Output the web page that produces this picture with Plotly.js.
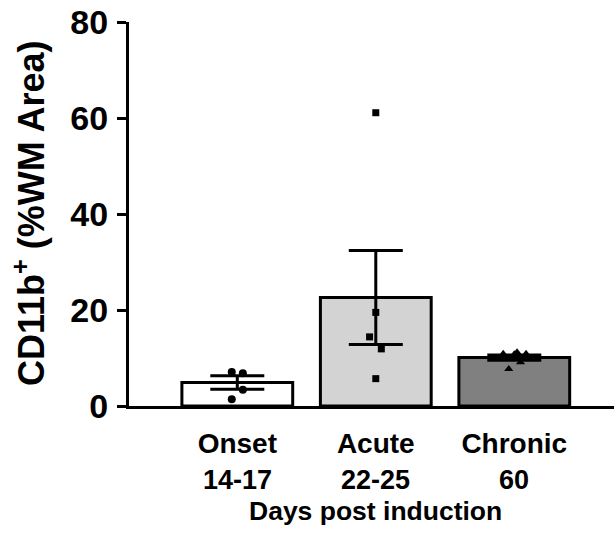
<!DOCTYPE html>
<html>
<head>
<meta charset="utf-8">
<script src="https://cdn.plot.ly/plotly-3.0.1.min.js"></script>
<style>html,body{margin:0;padding:0;background:#fff;}#chart{width:616px;height:540px;}</style>
</head>
<body>
<div id="chart"></div>
<script>
const categories = ['Onset', 'Acute', 'Chronic'];
const dayRanges = ['14-17', '22-25', '60'];
const means = [4.9, 22.6, 10.1];
const sems = [1.4, 9.8, 0.55];
const onsetPoints = [7.1, 6.8, 3.4, 1.4];
const acutePoints = [61.1, 19.5, 14.4, 11.9, 5.7];
const chronicPoints = [10.9, 10.9, 9.1, 7.7, 10.8, 11.2];
const yTicks = [0, 20, 40, 60, 80];
const yTitle = 'CD11b<sup>+</sup> (%WM Area)';
const xTitle = 'Days post induction';

// small horizontal jitter (category units) so points don't overlap
const onsetJitter = [-0.04, 0.04, 0.04, -0.04];
const acuteJitter = [0, 0, -0.045, 0.04, 0];
const chronicJitter = [-0.08, 0.085, 0.045, -0.04, 0, 0.02];

const idx = categories.map((c, i) => i);
const fills = ['#ffffff', '#d3d3d3', '#808080'];

const bars = {
  type: 'bar',
  x: idx,
  y: means,
  width: 0.8,
  marker: {color: fills, line: {color: '#000', width: 3}},
  error_y: {type: 'data', array: sems, visible: true, color: '#000', thickness: 3, width: 27},
  hoverinfo: 'skip'
};
function pts(group, vals, jit, symbol, size) {
  return {
    type: 'scatter', mode: 'markers',
    x: vals.map((v, i) => idx[group] + jit[i]),
    y: vals,
    marker: {symbol: symbol, size: size, color: '#000', line: {width: 0}},
    hoverinfo: 'skip', cliponaxis: false
  };
}
const data = [
  bars,
  pts(0, onsetPoints, onsetJitter, 'circle', 8),
  pts(1, acutePoints, acuteJitter, 'square', 7),
  pts(2, chronicPoints, chronicJitter, 'triangle-up', 8)
];

const FONT = 'Arial, "Liberation Sans", sans-serif';
const annotations = dayRanges.map((d, i) => ({
  x: idx[i], y: 0, xref: 'x', yref: 'paper',
  yanchor: 'top', xanchor: 'center', yshift: -57,
  text: '<b>' + d + '</b>', showarrow: false,
  font: {family: FONT, size: 27, color: '#000'}
}));
annotations.push({
  x: 1, y: 0, xref: 'x', yref: 'paper', xanchor: 'center', yanchor: 'top', yshift: -88,
  text: '<b>' + xTitle + '</b>', showarrow: false,
  font: {family: FONT, size: 26.5, color: '#000'}
});
annotations.push({
  x: 0, y: 0.5, xref: 'paper', yref: 'paper', xanchor: 'center', yanchor: 'middle',
  xshift: -100, textangle: -90,
  text: '<b>' + yTitle + '</b>', showarrow: false,
  font: {family: FONT, size: 36, color: '#000'}
});

const layout = {
  width: 616, height: 540,
  margin: {l: 129, r: 2, t: 22, b: 134},
  paper_bgcolor: '#fff', plot_bgcolor: '#fff',
  showlegend: false, hovermode: false,
  font: {family: FONT, color: '#000'},
  xaxis: {
    range: [-0.782, 2.72],
    tickvals: idx,
    ticktext: categories.map(c => '<b>' + c + '</b>'),
    ticks: '', showgrid: false, zeroline: false,
    showline: true, linecolor: '#000', linewidth: 3,
    tickfont: {family: FONT, size: 28, color: '#000'},
    ticklabelstandoff: 10
  },
  yaxis: {
    range: [0, 80],
    tickvals: yTicks,
    ticktext: yTicks.map(v => '<b>' + v + '</b>'),
    ticks: 'outside', ticklen: 9, tickwidth: 3, tickcolor: '#000',
    showgrid: false, zeroline: false,
    showline: true, linecolor: '#000', linewidth: 3,
    tickfont: {family: FONT, size: 34, color: '#000'},
    ticklabelstandoff: 2
  },
  annotations: annotations
};
Plotly.newPlot('chart', data, layout, {displayModeBar: false, staticPlot: true});
</script>
</body>
</html>
